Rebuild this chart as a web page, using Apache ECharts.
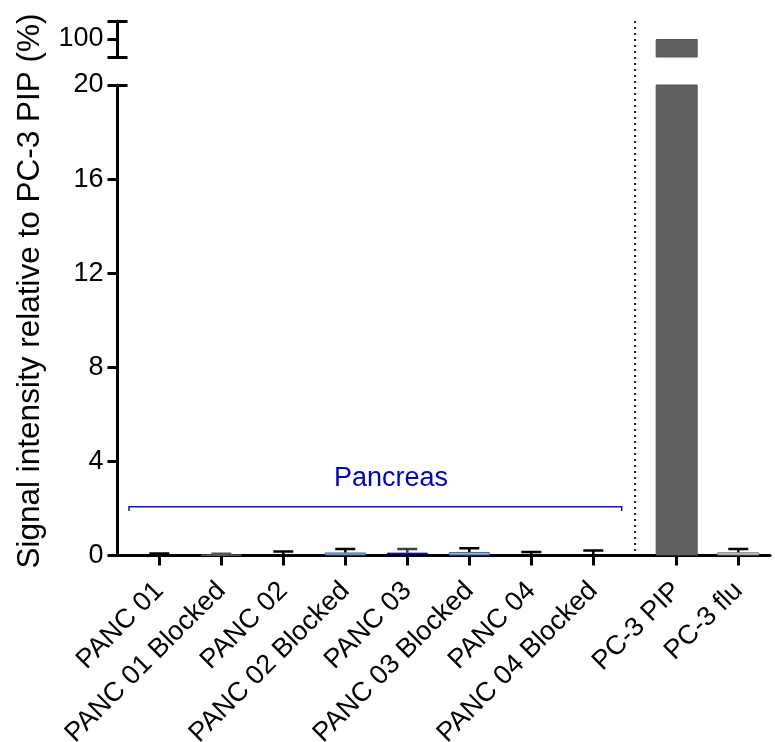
<!DOCTYPE html>
<html>
<head>
<meta charset="utf-8">
<script src="https://cdn.jsdelivr.net/npm/echarts@6/dist/echarts.min.js"></script>
<style>
html,body{margin:0;padding:0;background:#fff;}
#chart{width:775px;height:742px;}
</style>
</head>
<body>
<div id="chart"></div>
<script>
// ---- data ----
const pancCategories = ['PANC 01','PANC 01 Blocked','PANC 02','PANC 02 Blocked','PANC 03','PANC 03 Blocked','PANC 04','PANC 04 Blocked'];
const pancMeans  = [0.03, 0.03, 0.05, 0.13, 0.12, 0.15, 0.03, 0.06];
const pancErrors = [0.05, 0.04, 0.12, 0.15, 0.16, 0.16, 0.12, 0.15];
const pc3Categories = ['PC-3 PIP','PC-3 flu'];
const pc3Means  = [100, 0.14];
const pc3Errors = [0, 0.14];
const lowTicks = [0, 20, 4];      // min, max, interval
const highTicks = [95, 105, 5];   // min, max, interval
const groupLabel = 'Pancreas';
const yTitle = 'Signal intensity relative to PC-3 PIP (%)';

// ---- styles / layout ----
const pancFill = ['#1a1a1a','#7f7f7f','#111111','#8db3e2','#00008b','#8db3e2','#111111','#111111'];
const pancBorder = ['#000','#666','#000','#4a6a9a','#000060','#4a6a9a','#000','#000'];
const pancErrColor = ['#000','#555','#000','#000','#404040','#000','#000','#000'];
const pc3Fill = ['#606060','#c8c8c8'];
const pc3Border = ['#555555','#808080'];
const FONT = 'Liberation Sans, Arial, sans-serif';
const AX_L = 117.5, AX_R = 770, LOW_T = 85, LOW_B = 555.5, TOP_T = 21, TOP_B = 57;
const L_LEFT = 128.3, L_W = 496, R_LEFT = 645.9, R_W = 123.2;

const chart = echarts.init(document.getElementById('chart'), null, {renderer:'canvas'});

function errRenderer(colors){
  return function(params, api){
    const x = api.value(0), m = api.value(1), e = api.value(2);
    if (!e) return null;
    const p0 = api.coord([x, m]);
    const p1 = api.coord([x, m + e]);
    const hw = 10;
    const c = colors[params.dataIndex] || '#000';
    return {type:'group', children:[
      {type:'line', shape:{x1:p0[0], y1:p0[1], x2:p1[0], y2:p1[1]}, style:{stroke:c, lineWidth:2.5}},
      {type:'line', shape:{x1:p1[0]-hw, y1:p1[1], x2:p1[0]+hw, y2:p1[1]}, style:{stroke:c, lineWidth:2.5}}
    ]};
  };
}

const hiddenCat = (grid, data) => ({gridIndex:grid, type:'category', data:data, show:false});
const hiddenVal = (grid, r) => ({gridIndex:grid, type:'value', min:r[0], max:r[1], show:false});
const catAxis = (grid, data) => ({
  gridIndex:grid, type:'category', data:data,
  axisLine:{show:false},
  axisTick:{show:true, alignWithLabel:true, length:10, lineStyle:{color:'#000', width:3}},
  axisLabel:{rotate:45, fontSize:27, fontFamily:FONT, color:'#000', margin:31, interval:0}
});
const mkGrid = (left, top, width, height) => ({left, top, width, height, outerBoundsMode:'none', containLabel:false});

const option = {
  animation:false,
  backgroundColor:'#fff',
  grid:[
    mkGrid(AX_L, LOW_T, AX_R-AX_L, LOW_B-LOW_T),   // 0 bottom frame
    mkGrid(L_LEFT, LOW_T, L_W, LOW_B-LOW_T),       // 1 pancreas
    mkGrid(R_LEFT, LOW_T, R_W, LOW_B-LOW_T),       // 2 pc-3
    mkGrid(AX_L, TOP_T, AX_R-AX_L, TOP_B-TOP_T),   // 3 top frame
    mkGrid(R_LEFT, TOP_T, R_W, TOP_B-TOP_T)        // 4 pc-3 top
  ],
  xAxis:[
    {gridIndex:0, type:'value', min:0, max:1,
     axisLine:{show:true, onZero:false, lineStyle:{color:'#000', width:3}},
     axisTick:{show:false}, axisLabel:{show:false}, splitLine:{show:false}},
    catAxis(1, pancCategories),
    catAxis(2, pc3Categories),
    {gridIndex:3, type:'value', min:0, max:1, show:false},
    hiddenCat(4, pc3Categories)
  ],
  yAxis:[
    {gridIndex:0, type:'value', position:'left', min:lowTicks[0], max:lowTicks[1], interval:lowTicks[2],
     axisLine:{show:true, lineStyle:{color:'#000', width:3}},
     axisTick:{show:true, length:10, lineStyle:{color:'#000', width:3}},
     axisLabel:{fontSize:27, fontFamily:FONT, color:'#000', margin:14},
     splitLine:{show:false}},
    hiddenVal(1, lowTicks),
    hiddenVal(2, lowTicks),
    {gridIndex:3, type:'value', position:'left', min:highTicks[0], max:highTicks[1], interval:highTicks[2],
     axisLine:{show:true, lineStyle:{color:'#000', width:3}},
     axisTick:{show:true, length:10, lineStyle:{color:'#000', width:3}},
     axisLabel:{fontSize:27, fontFamily:FONT, color:'#000', margin:14,
       formatter:(v)=> v === 100 ? '100' : ''},
     splitLine:{show:false}},
    hiddenVal(4, highTicks),
    {gridIndex:0, type:'value', position:'left', offset:0, min:lowTicks[0], max:lowTicks[1],
     axisLine:{show:false}, axisLabel:{show:false}, splitLine:{show:false},
     axisTick:{show:true, inside:true, length:10, customValues:[lowTicks[1]], lineStyle:{color:'#000', width:3}}},
    {gridIndex:3, type:'value', position:'left', offset:0, min:highTicks[0], max:highTicks[1],
     axisLine:{show:false}, axisLabel:{show:false}, splitLine:{show:false},
     axisTick:{show:true, inside:true, length:10, customValues:[highTicks[0], highTicks[1]], lineStyle:{color:'#000', width:3}}}
  ],
  series:[
    {type:'bar', xAxisIndex:1, yAxisIndex:1, barWidth:41, clip:true,
     data:pancMeans.map((v,i)=>({value:v, itemStyle:{color:pancFill[i], borderColor:pancBorder[i], borderWidth:1}}))},
    {type:'custom', xAxisIndex:1, yAxisIndex:1, renderItem:errRenderer(pancErrColor), clip:true,
     encode:{x:0, y:1}, data:pancMeans.map((v,i)=>[i, v, pancErrors[i]]), z:3},
    {type:'bar', xAxisIndex:2, yAxisIndex:2, barWidth:42, clip:true,
     data:pc3Means.map((v,i)=>({value:v, itemStyle:{color:pc3Fill[i], borderColor:pc3Border[i], borderWidth:1}}))},
    {type:'custom', xAxisIndex:2, yAxisIndex:2, renderItem:errRenderer(['#000','#000']), clip:true,
     encode:{x:0, y:1}, data:pc3Means.map((v,i)=>[i, v, pc3Errors[i]]), z:3},
    {type:'bar', xAxisIndex:4, yAxisIndex:4, barWidth:42, clip:true,
     data:pc3Means.map((v,i)=>({value:v, itemStyle:{color:pc3Fill[i], borderColor:pc3Border[i], borderWidth:1}}))}
  ],
  graphic:[
    {type:'line', shape:{x1:(L_LEFT+L_W+R_LEFT)/2, y1:TOP_T, x2:(L_LEFT+L_W+R_LEFT)/2, y2:LOW_B},
     style:{stroke:'#222', lineWidth:2, lineDash:[2,4]}},
    {type:'polyline', shape:{points:[[129,511],[129,506.7],[621.7,506.7],[621.7,511]]},
     style:{stroke:'#1010d0', lineWidth:1.5, fill:null}},
    {type:'text', x:391, y:479, style:{text:groupLabel, fontSize:27, fontFamily:FONT, fill:'#0000cc', align:'center', verticalAlign:'middle'}},
    {type:'text', x:30, y:291, rotation:Math.PI/2,
     style:{text:yTitle, fontSize:31.5, fontFamily:FONT, fill:'#000', align:'center', verticalAlign:'middle'}}
  ]
};
chart.setOption(option);
</script>
</body>
</html>
